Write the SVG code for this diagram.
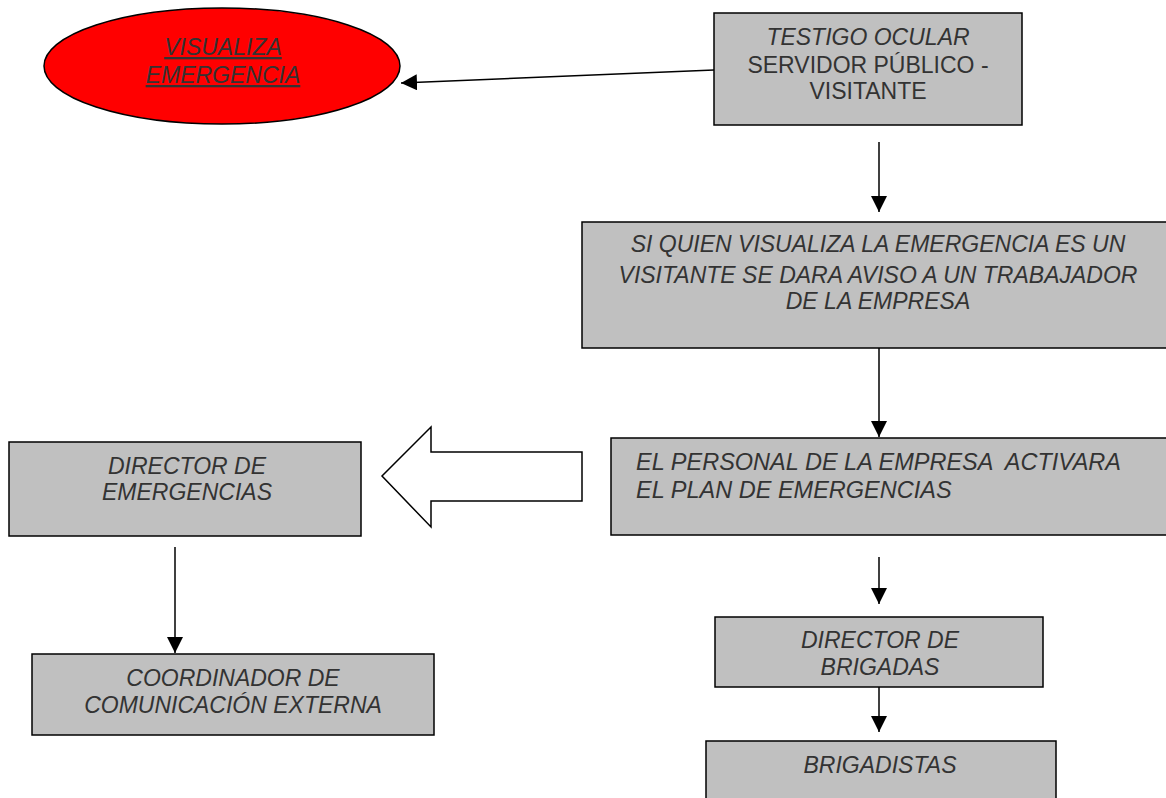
<svg xmlns="http://www.w3.org/2000/svg" width="1166" height="798" viewBox="0 0 1166 798">
<style>
.box{fill:#c0c0c0;stroke:#000;stroke-width:1.5}
.t{font-family:"Liberation Sans",Arial,sans-serif;font-size:23px;fill:#333;font-style:italic}
.n{font-style:normal}
.c{text-anchor:middle}
.ln{stroke:#000;stroke-width:1.5;fill:none}
</style>
<defs>
<marker id="ahv" markerWidth="16" markerHeight="16" refX="16" refY="8" orient="auto" markerUnits="userSpaceOnUse" viewBox="0 0 16 16">
<path d="M0,0 L16,8 L0,16 Z" fill="#000"/>
</marker>
</defs>
<rect width="1166" height="798" fill="#fff"/>
<g id="connectors">
<line class="ln" x1="714" y1="70" x2="401" y2="83" marker-end="url(#ahv)"/>
<line class="ln" x1="879" y1="142" x2="879" y2="212" marker-end="url(#ahv)"/>
<line class="ln" x1="879" y1="348" x2="879" y2="437" marker-end="url(#ahv)"/>
<line class="ln" x1="879" y1="557" x2="879" y2="604" marker-end="url(#ahv)"/>
<line class="ln" x1="879" y1="687" x2="879" y2="732" marker-end="url(#ahv)"/>
<line class="ln" x1="175" y1="547" x2="175" y2="653" marker-end="url(#ahv)"/>
<path d="M582,452 L431,452 L431,427 L382,476 L431,527 L431,501 L582,501 Z" fill="#fff" stroke="#000" stroke-width="1.5"/>
</g>
<g id="visualiza">
<ellipse cx="222" cy="66" rx="178" ry="58" fill="#ff0000" stroke="#000" stroke-width="1.5"/>
<text class="t c" x="223" y="55" text-decoration="underline">VISUALIZA</text>
<text class="t c" x="223" y="83" text-decoration="underline">EMERGENCIA</text>
</g>
<g id="testigo">
<rect class="box" x="714" y="13" width="308" height="112"/>
<text class="t c" x="868" y="45">TESTIGO OCULAR</text>
<text class="t n c" x="868" y="73">SERVIDOR PÚBLICO -</text>
<text class="t n c" x="868" y="99">VISITANTE</text>
</g>
<g id="aviso">
<rect class="box" x="582" y="222" width="600" height="126"/>
<text class="t c" x="878" y="252">SI QUIEN VISUALIZA LA EMERGENCIA ES UN</text>
<text class="t c" x="878" y="283">VISITANTE SE DARA AVISO A UN TRABAJADOR</text>
<text class="t c" x="878" y="309">DE LA EMPRESA</text>
</g>
<g id="activara">
<rect class="box" x="611" y="438" width="580" height="97"/>
<text class="t" x="636" y="470" style="font-size:23.5px" xml:space="preserve">EL PERSONAL DE LA EMPRESA  ACTIVARA</text>
<text class="t" x="636" y="498" style="font-size:23.5px">EL PLAN DE EMERGENCIAS</text>
</g>
<g id="director-emergencias">
<rect class="box" x="9" y="442" width="352" height="94"/>
<text class="t c" x="187" y="474">DIRECTOR DE</text>
<text class="t c" x="187" y="500">EMERGENCIAS</text>
</g>
<g id="coordinador">
<rect class="box" x="32" y="654" width="402" height="81"/>
<text class="t c" x="233" y="686">COORDINADOR DE</text>
<text class="t c" x="233" y="713">COMUNICACIÓN EXTERNA</text>
</g>
<g id="director-brigadas">
<rect class="box" x="715" y="617" width="328" height="70"/>
<text class="t c" x="880" y="648">DIRECTOR DE</text>
<text class="t c" x="880" y="675">BRIGADAS</text>
</g>
<g id="brigadistas">
<rect class="box" x="706" y="741" width="350" height="70"/>
<text class="t c" x="880" y="773">BRIGADISTAS</text>
</g>
</svg>
